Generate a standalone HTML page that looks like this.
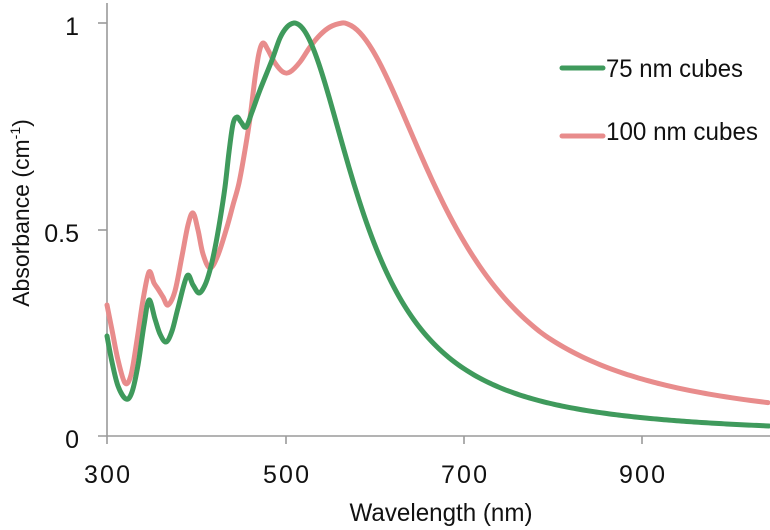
<!DOCTYPE html>
<html>
<head>
<meta charset="utf-8">
<style>
html,body{margin:0;padding:0;background:#fff;}
svg{display:block;}
text{font-family:"Liberation Sans",sans-serif;fill:#111;}
</style>
</head>
<body>
<svg id="s" width="770" height="530" viewBox="0 0 770 530" xmlns="http://www.w3.org/2000/svg">
  <rect width="770" height="530" fill="#fff"/>
  <!-- axes -->
  <g stroke="#9a9a9a" stroke-width="1.6" fill="none">
    <line x1="107" y1="3" x2="107" y2="444"/>
    <line x1="98" y1="436" x2="770" y2="436"/>
    <line x1="98" y1="23" x2="107" y2="23"/>
    <line x1="98" y1="230" x2="107" y2="230"/>
    <line x1="286" y1="436" x2="286" y2="444"/>
    <line x1="464" y1="436" x2="464" y2="444"/>
    <line x1="642" y1="436" x2="642" y2="444"/>
  </g>
  <!-- tick labels -->
  <g font-size="25" text-anchor="end">
    <text x="79" y="35">1</text>
    <text x="79" y="242">0.5</text>
    <text x="79" y="448">0</text>
  </g>
  <g font-size="25" text-anchor="middle">
    <text x="107" y="483" textLength="46">300</text>
    <text x="286" y="483" textLength="46">500</text>
    <text x="464" y="483" textLength="46">700</text>
    <text x="642" y="483" textLength="46">900</text>
  </g>
  <text x="441" y="521" font-size="25" text-anchor="middle" textLength="183" lengthAdjust="spacingAndGlyphs">Wavelength (nm)</text>
  <text transform="translate(29,213) rotate(-90)" font-size="23" text-anchor="middle">Absorbance (cm<tspan font-size="14" dy="-9">-1</tspan><tspan dy="9">)</tspan></text>

  <!-- series -->
  <path id="pink" fill="none" stroke="#e88c8c" stroke-width="5" stroke-linejoin="round" stroke-linecap="round"/>
  <path id="green" fill="none" stroke="#3f9a5c" stroke-width="5" stroke-linejoin="round" stroke-linecap="round"/>

  <!-- legend -->
  <line x1="562" y1="68" x2="603" y2="68" stroke="#3f9a5c" stroke-width="5" stroke-linecap="round"/>
  <text x="606" y="77" font-size="25" textLength="137" lengthAdjust="spacingAndGlyphs">75 nm cubes</text>
  <line x1="562" y1="136" x2="603" y2="136" stroke="#e88c8c" stroke-width="5" stroke-linecap="round"/>
  <text x="606" y="140" font-size="25" textLength="152" lengthAdjust="spacingAndGlyphs">100 nm cubes</text>
</svg>
<script>
function cr(pts){
  var d="M"+pts[0][0]+","+pts[0][1];
  for(var i=0;i<pts.length-1;i++){
    var p0=pts[i-1]||pts[i],p1=pts[i],p2=pts[i+1],p3=pts[i+2]||pts[i+1];
    var t=6;
    var c1x=p1[0]+(p2[0]-p0[0])/t,c1y=p1[1]+(p2[1]-p0[1])/t;
    var c2x=p2[0]-(p3[0]-p1[0])/t,c2y=p2[1]-(p3[1]-p1[1])/t;
    d+=" C"+c1x.toFixed(2)+","+c1y.toFixed(2)+" "+c2x.toFixed(2)+","+c2y.toFixed(2)+" "+p2[0].toFixed(2)+","+p2[1].toFixed(2);
  }
  return d;
}
var green=[[107,336],[112,362],[118,386],[126,399],[132,392],[138,365],[144,325],[149,300],[155,319],[160,334],[166,342],[172,331],[178,308],[187,276],[193,285],[199,293],[205,285],[210,270],[215,248],[220,220],[225,187],[229,152],[233,124],[237,117],[241,122],[246,127],[252,112],[260,90],[272,60],[280,38],[287,27],[294,23]];
for(var x=299;x<=772;x+=5){
  var d=(x-294)/75;
  var A=1/(1+d*d);
  green.push([x,436-413*A]);
}
var pink=[[107,305],[112,330],[118,360],[125,383],[131,375],[137,340],[143,300],[149,272],[154,283],[158,289],[163,297],[168,305],[175,291],[182,256],[188,225],[193,213],[198,230],[203,254],[210,268],[218,255],[227,227],[233,205],[239,183],[245,150],[250,118],[255,78],[259,53],[263,43],[268,50],[275,63],[283,72],[290,72],[300,62],[310,47],[320,35],[330,27],[342,23]];
for(var x=348;x<=772;x+=6){
  var dd=x-342;
  var w=115+Math.max(0,dd-200)*0.05;
  var q=dd/w;
  var A=1/(1+q*q);
  pink.push([x,436-413*A]);
}
document.getElementById("green").setAttribute("d",cr(green));
document.getElementById("pink").setAttribute("d",cr(pink));
</script>
</body>
</html>
